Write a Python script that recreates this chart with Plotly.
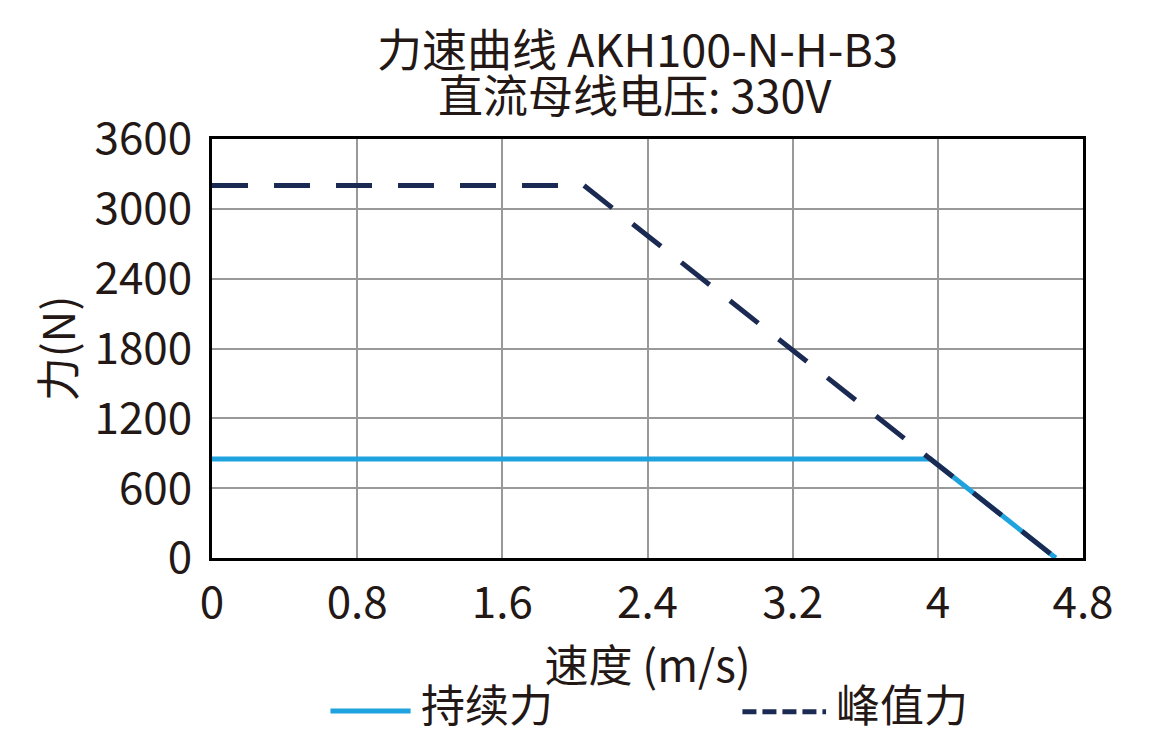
import plotly.graph_objects as go

# speed (m/s) and force (N)
cont_speed = [0, 3.96, 4.65]
cont_force = [850, 850, 0]
peak_speed = [0, 2.05, 4.65]
peak_force = [3200, 3200, 0]

x_ticks = [0, 0.8, 1.6, 2.4, 3.2, 4, 4.8]
x_tick_text = ["0", "0.8", "1.6", "2.4", "3.2", "4", "4.8"]
y_ticks = [0, 600, 1200, 1800, 2400, 3000, 3600]

title_lines = ["力速曲线 AKH100-N-H-B3", "直流母线电压: 330V"]
series_names = ["持续力", "峰值力"]
series_colors = ["#1fa3df", "#1b2a52"]

FONT = "Noto Sans CJK SC"
TXT = "#231815"

fig = go.Figure()
fig.add_trace(go.Scatter(
    x=cont_speed, y=cont_force, mode="lines", name=series_names[0],
    line=dict(color=series_colors[0], width=5), showlegend=False,
))
fig.add_trace(go.Scatter(
    x=peak_speed, y=peak_force, mode="lines", name=series_names[1],
    line=dict(color=series_colors[1], width=5, dash="36px,26px"),
    showlegend=False,
))

# two-line title, placed as separate annotations for tight spacing
fig.add_annotation(text=title_lines[0], xref="paper", yref="paper",
                   x=0.488, y=1.218, xanchor="center", yanchor="middle",
                   showarrow=False, font=dict(size=45))
fig.add_annotation(text=title_lines[1], xref="paper", yref="paper",
                   x=0.486, y=1.108, xanchor="center", yanchor="middle",
                   showarrow=False, font=dict(size=45))

# hand-drawn legend below the x axis title
fig.add_shape(type="line", xref="paper", yref="paper",
              x0=0.136, x1=0.228, y0=-0.365, y1=-0.365,
              line=dict(color=series_colors[0], width=5))
fig.add_annotation(text=series_names[0], xref="paper", yref="paper",
                   x=0.238, y=-0.345, xanchor="left", yanchor="middle",
                   showarrow=False, font=dict(size=44))
fig.add_shape(type="line", xref="paper", yref="paper",
              x0=0.609, x1=0.705, y0=-0.367, y1=-0.367,
              line=dict(color=series_colors[1], width=5, dash="14px,6px"))
fig.add_annotation(text=series_names[1], xref="paper", yref="paper",
                   x=0.714, y=-0.345, xanchor="left", yanchor="middle",
                   showarrow=False, font=dict(size=44))

fig.update_layout(
    width=1163, height=747,
    margin=dict(l=204, r=88, t=131, b=197, autoexpand=False),
    paper_bgcolor="white", plot_bgcolor="white",
    font=dict(family=FONT, size=44, color=TXT),
    showlegend=False,
    xaxis=dict(
        range=[0, 4.8], tickvals=x_ticks, ticktext=x_tick_text,
        showgrid=True, gridcolor="#999999", gridwidth=2,
        showline=True, linecolor="black", linewidth=3, mirror=True,
        zeroline=False, ticks="", tickfont=dict(size=44),
        ticklabelstandoff=4,
        title=dict(text="速度 (m/s)", font=dict(size=44), standoff=0),
    ),
    yaxis=dict(
        range=[0, 3600], tickvals=y_ticks,
        showgrid=True, gridcolor="#999999", gridwidth=2,
        showline=True, linecolor="black", linewidth=3, mirror=True,
        zeroline=False, ticks="", tickfont=dict(size=44),
        ticklabelstandoff=8,
        title=dict(text="力(N)", font=dict(size=44), standoff=6),
    ),
)

fig.write_html("out.html")
